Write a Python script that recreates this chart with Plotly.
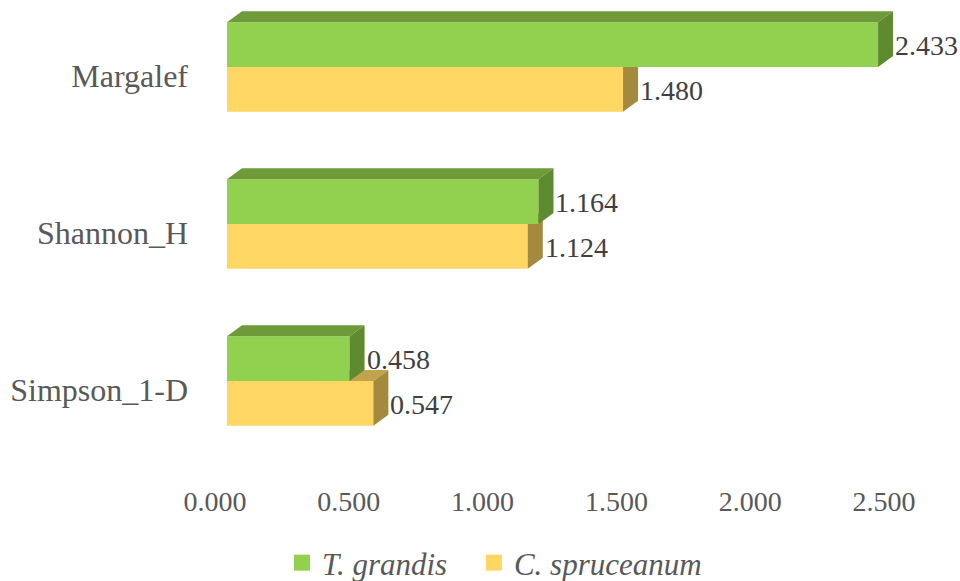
import plotly.graph_objects as go

# ---- data -------------------------------------------------------------
categories = ["Margalef", "Shannon_H", "Simpson_1-D"]
t_grandis = [2.433, 1.164, 0.458]
c_spruceanum = [1.480, 1.124, 0.547]
series_names = ["T. grandis", "C. spruceanum"]
x_ticks = [0.0, 0.5, 1.0, 1.5, 2.0, 2.5]

# ---- geometry ---------------------------------------------------------
W, H = 960, 581
ML, MR, MT, MB = 227, 64, 0, 105
X_MAX = 2.5
PX_X = (W - ML - MR) / X_MAX          # pixels per x unit
PX_Y = 157.0                          # pixels per category step
PLOT_H = H - MT - MB
Y_LO = -(PLOT_H - 381) / PX_Y         # lowest category sits 381 px from top
Y_HI = Y_LO + PLOT_H / PX_Y
cat_pos = [2, 1, 0]                   # top to bottom
BAR_W = 44.7 / PX_Y                   # bar thickness in category units
DX = 15 / PX_X                        # 3-D depth, horizontal
DY = 11 / PX_Y                        # 3-D depth, vertical

FONT = "Liberation Serif"
GREY = "#595959"

styles = {
    "T. grandis": dict(front="#92D050", top="#6E9A3A", side="#5E8A30"),
    "C. spruceanum": dict(front="#FDD663", top="#C2A24A", side="#A38A3E"),
}


def faces(values, offset):
    """Polygons for the top and right-hand faces of each bar."""
    tx, ty, sx, sy = [], [], [], []
    for v, p in zip(values, cat_pos):
        yb = p + offset - BAR_W / 2
        yt = p + offset + BAR_W / 2
        tx += [0, v, v + DX, DX, 0, None]
        ty += [yt, yt, yt + DY, yt + DY, yt, None]
        sx += [v, v + DX, v + DX, v, v, None]
        sy += [yb, yb + DY, yt + DY, yt, yb, None]
    return tx, ty, sx, sy


fig = go.Figure()

# yellow series on the base axes, green series on an overlay above it
series = [
    ("C. spruceanum", c_spruceanum, -BAR_W / 2, "x", "y"),
    ("T. grandis", t_grandis, BAR_W / 2, "x2", "y2"),
]

annotations = []
for name, vals, off, xa, ya in series:
    st = styles[name]
    fig.add_trace(go.Bar(
        x=vals, y=[p + off for p in cat_pos], orientation="h",
        width=BAR_W, base=0, marker=dict(color=st["front"], line=dict(width=0)),
        showlegend=False, hoverinfo="skip", xaxis=xa, yaxis=ya,
    ))
    tx, ty, sx, sy = faces(vals, off)
    fig.add_trace(go.Scatter(
        x=tx, y=ty, fill="toself", fillcolor=st["top"], mode="lines",
        line=dict(width=0, color=st["top"]), showlegend=False,
        hoverinfo="skip", xaxis=xa, yaxis=ya,
    ))
    fig.add_trace(go.Scatter(
        x=sx, y=sy, fill="toself", fillcolor=st["side"], mode="lines",
        line=dict(width=0, color=st["side"]), showlegend=False,
        hoverinfo="skip", xaxis=xa, yaxis=ya,
    ))
    for v, p in zip(vals, cat_pos):
        annotations.append(dict(
            x=v + DX, y=p + off, xref="x", yref="y", text=f"{v:.3f}",
            showarrow=False, xanchor="left", yanchor="middle", yshift=-1,
            font=dict(family=FONT, size=28, color="#404040"),
        ))

# legend entries (first one padded to space the two items apart)
legend_labels = [f"<i>{series_names[0]}</i>\u00a0\u00a0\u2009",
                 f"<i>{series_names[1]}</i>"]
for name, label in zip(series_names, legend_labels):
    fig.add_trace(go.Scatter(
        x=[None], y=[None], mode="markers", name=label,
        marker=dict(symbol="square", size=18, color=styles[name]["front"]),
    ))

axis_common = dict(showgrid=False, zeroline=False, showline=False)
fig.update_layout(
    width=W, height=H,
    margin=dict(l=ML, r=MR, t=MT, b=MB),
    paper_bgcolor="white", plot_bgcolor="white",
    xaxis=dict(
        range=[0, X_MAX], tickvals=x_ticks, tickformat=".3f",
        ticks="", ticklabelshift=-12, ticklabelstandoff=6,
        tickfont=dict(family=FONT, size=28, color=GREY), **axis_common,
    ),
    yaxis=dict(
        range=[Y_LO, Y_HI], tickvals=cat_pos, ticktext=categories,
        ticks="", ticklabelstandoff=38, ticklabelshift=9,
        tickfont=dict(family=FONT, size=32, color=GREY), **axis_common,
    ),
    xaxis2=dict(range=[0, X_MAX], overlaying="x", visible=False, **axis_common),
    yaxis2=dict(range=[Y_LO, Y_HI], overlaying="y", visible=False, **axis_common),
    barmode="overlay",
    showlegend=True,
    legend=dict(
        orientation="h", xref="container", yref="container",
        x=282 / W, xanchor="left", y=1 - 563 / H, yanchor="middle",
        font=dict(family=FONT, size=31, color=GREY),
        bgcolor="rgba(0,0,0,0)",
    ),
    annotations=annotations,
)

fig.write_html("out.html")
